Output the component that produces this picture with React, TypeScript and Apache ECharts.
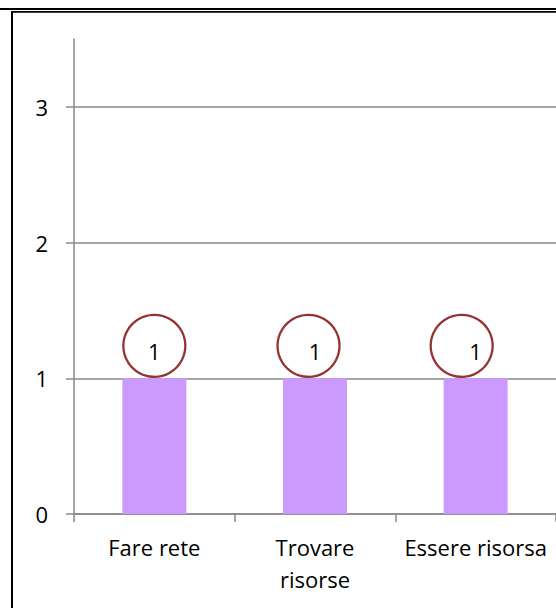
import React, { useEffect, useRef } from "react";
import * as echarts from "echarts";

const categories = ["Fare rete", "Trovare\nrisorse", "Essere risorsa"];
const values = [1, 1, 1];
const yTicks = [0, 1, 2, 3];

const FONT = "'Open Sans', 'Noto Sans', sans-serif";
const GRID_COLOR = "#888888";

export default function App() {
  const ref = useRef<HTMLDivElement>(null);
  useEffect(() => {
    if (!ref.current) return;
    const chart = echarts.init(ref.current, null, { renderer: "svg" });
    const circleShift = [0, -6.5, -14];
    chart.setOption({
      animation: false,
      backgroundColor: "#ffffff",
      textStyle: { fontFamily: FONT },
      grid: { left: 74, right: -2.5, top: 39, bottom: 94, containLabel: false },
      xAxis: {
        type: "category",
        data: categories,
        boundaryGap: true,
        axisLine: { show: true, lineStyle: { color: GRID_COLOR, width: 1.5 } },
        axisTick: { show: true, length: 8, inside: false, lineStyle: { color: GRID_COLOR, width: 1.5 } },
        axisLabel: {
          interval: 0,
          margin: 17,
          fontSize: 22,
          lineHeight: 32,
          color: "#000",
          fontFamily: FONT,
        },
        splitLine: { show: false },
      },
      yAxis: {
        type: "value",
        min: 0,
        max: 3.5,
        interval: 1,
        axisLine: { show: true, lineStyle: { color: GRID_COLOR, width: 1.5 } },
        axisTick: {
          show: true,
          length: 8,
          inside: false,
          customValues: yTicks,
          lineStyle: { color: GRID_COLOR, width: 1.5 },
        },
        axisLabel: {
          customValues: yTicks,
          margin: 26,
          fontSize: 22,
          color: "#000",
          fontFamily: FONT,
        },
        splitLine: {
          show: true,
          lineStyle: {
            color: [GRID_COLOR, GRID_COLOR, GRID_COLOR, GRID_COLOR, "rgba(0,0,0,0)"],
            width: 1.5,
          },
        },
      },
      series: [
        {
          type: "bar",
          data: values,
          barWidth: 64,
          itemStyle: { color: "#cc99ff" },
          label: {
            show: true,
            position: "top",
            distance: 16,
            fontSize: 22,
            color: "#000",
            fontFamily: FONT,
          },
          z: 2,
        },
        {
          type: "scatter",
          data: values.map((v, i) => ({
            value: v,
            symbolOffset: [circleShift[i], -32.5],
          })),
          symbol: "circle",
          symbolSize: 62,
          itemStyle: {
            color: "rgba(0,0,0,0)",
            borderColor: "#7a0000",
            borderWidth: 2.3,
          },
          label: { show: false },
          z: 3,
          silent: true,
        },
      ],
      graphic: [
        {
          type: "line",
          shape: { x1: 0, y1: 9, x2: 556, y2: 9 },
          style: { stroke: "#000", lineWidth: 2.2 },
          z: 10,
        },
        {
          type: "line",
          shape: { x1: 11, y1: 11.9, x2: 556, y2: 11.9 },
          style: { stroke: "#000", lineWidth: 1.8 },
          z: 10,
        },
        {
          type: "line",
          shape: { x1: 12, y1: 11, x2: 12, y2: 608 },
          style: { stroke: "#000", lineWidth: 2 },
          z: 10,
        },
      ],
    });
    return () => chart.dispose();
  }, []);
  return (
    <div
      ref={ref}
      style={{ position: "fixed", left: 0, top: 0, width: 556, height: 608 }}
    />
  );
}
